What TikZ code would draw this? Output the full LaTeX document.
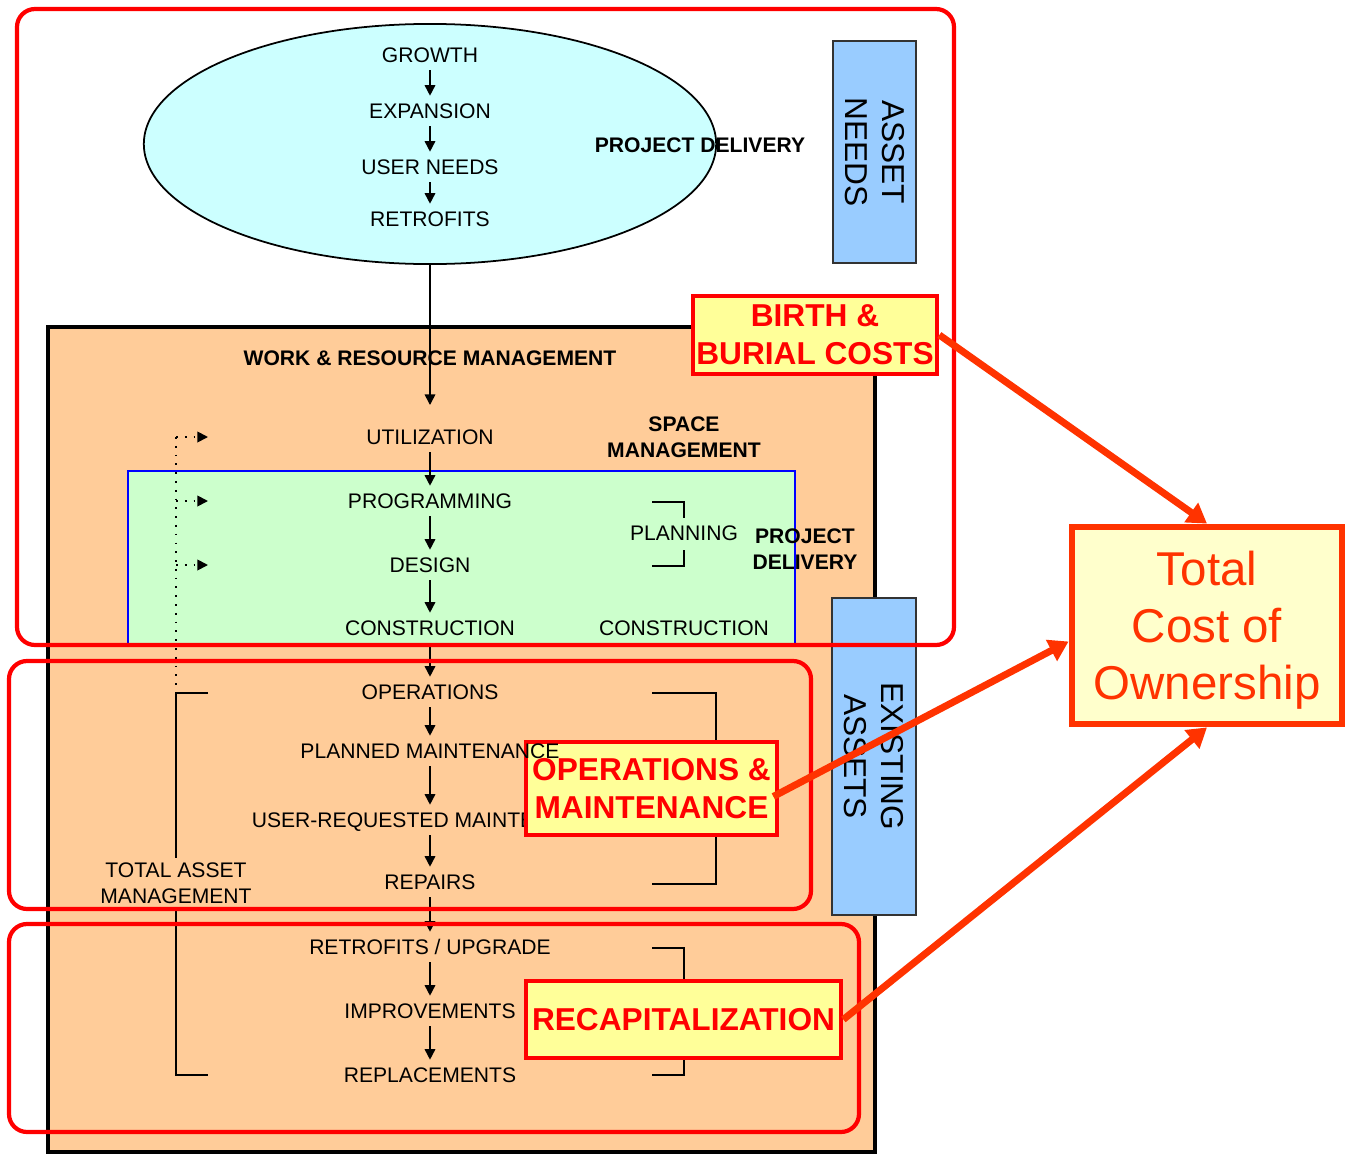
\documentclass[tikz,border=0pt]{standalone}
\usepackage{fontspec}
\setmainfont{Liberation Sans}
\usetikzlibrary{arrows.meta,positioning,shapes.geometric,calc}
\definecolor{tamRed}{HTML}{FF0000}
\definecolor{tamFlame}{HTML}{FF3300}
\definecolor{tamPeach}{HTML}{FFCC99}
\definecolor{tamMint}{HTML}{CCFFCC}
\definecolor{tamCyan}{HTML}{CCFFFF}
\definecolor{tamSky}{HTML}{99CCFF}
\definecolor{tamYellow}{HTML}{FFFF99}
\definecolor{tamCream}{HTML}{FFFFCC}
\definecolor{tamGrey}{HTML}{333333}
\tikzset{
  >={Triangle[length=3pt,width=3pt]},
  item/.style={font=\fontsize{6}{7.4}\selectfont, inner sep=2pt,
              text height=4.3pt, text depth=0pt},
  lbl/.style={font=\fontsize{6}{7.4}\selectfont, align=center, inner sep=1pt},
  hdr/.style={lbl, font=\fontsize{6}{7.4}\selectfont\bfseries},
  side/.style={draw=tamGrey, line width=0.6pt, fill=tamSky, rotate=-90,
              align=center, font=\fontsize{9}{10.5}\selectfont, inner sep=0pt},
  cost/.style={draw=tamRed, line width=1.3pt, fill=tamYellow, text=tamRed,
              align=center, font=\fontsize{9}{10.8}\selectfont\bfseries, inner sep=0pt},
  zone/.style={draw=tamRed, line width=1.2pt, rounded corners=1.8mm},
  flowarr/.style={->, line width=0.45pt},
  feed/.style={->, dotted, line width=0.5pt},
  brk/.style={line width=0.45pt},
  tco/.style={-{Triangle[length=5.5pt,width=6.5pt]}, draw=tamFlame, line width=2pt},
}
\begin{document}
\begin{tikzpicture}[x=0.01cm,y=-0.01cm]
  \useasboundingbox (0,0) rectangle (1347,1154);
  % asset needs part
  \node[ellipse, draw, line width=0.5pt, fill=tamCyan,
        minimum width=5.72cm, minimum height=2.4cm] (ell) at (430,144) {};
  \node[side, minimum width=2.22cm, minimum height=0.83cm] (needs) at (874.5,152) {ASSET\\NEEDS};
  % work & resource management frame
  \draw[line width=1.4pt, fill=tamPeach] (48,327) rectangle (875,1152);
  \draw[draw=blue, line width=0.5pt, fill=tamMint] (128,643) |- (795,471) -- (795,643);
  \node[hdr] (pd) at (700,145) {PROJECT DELIVERY};
  \node[hdr] (wrm) at (430,358) {WORK \& RESOURCE MANAGEMENT};
  \node[hdr] (sm) at (684,437) {SPACE\\MANAGEMENT};
  \node[hdr] (pd2) at (805,549) {PROJECT\\DELIVERY};
  \node[lbl] (plan) at (684,533) {PLANNING};
  \node[lbl] (cons2) at (684,628) {CONSTRUCTION};
  \node[lbl] (tam) at (176,883) {TOTAL ASSET\\MANAGEMENT};
  % the chain
  \foreach \n/\y/\t in {gro/55/GROWTH, exp/111/EXPANSION, usr/167/USER NEEDS, ret/219/RETROFITS,
      uti/437/UTILIZATION, prg/501/PROGRAMMING, des/565/DESIGN, con/628/CONSTRUCTION,
      ops/692/OPERATIONS, urm/820/USER-REQUESTED MAINTENANCE, rep/882/REPAIRS,
      imp/1011/IMPROVEMENTS, rpl/1075/REPLACEMENTS}
    \node[item] (\n) at (430,\y) {\t};
  \node[item] (upg) at (430,947) {RETROFITS / UPGRADE};
  \foreach \a/\b in {gro/exp, exp/usr, usr/ret, uti/prg, prg/des, des/con, con/ops,
      urm/rep, rep/upg, upg/imp, imp/rpl}
    \draw[flowarr] (\a) -- (\b);
  \coordinate (utitop) at (430,405);
  \draw[flowarr] (ell.south) -- (utitop);
  % brackets
  \draw[brk] (652,502) -| (684,518) (684,550) |- (652,566);
  \draw[brk] (652,693) -| (716,884) -- (652,884);
  \draw[brk] (652,948) -| (684,1075) -- (652,1075);
  \draw[brk] (208,693) -| (tam.north -| 176,0);
  \draw[brk] (tam.south -| 176,0) |- (208,1075);
  \draw[dotted, line width=0.5pt] (176,437) -- (176,687);
  \foreach \n in {uti,prg,des}{
    \coordinate (f\n) at (208,0 |- \n);
    \draw[feed] (176,0 |- \n) -- (f\n);}
  \node[side, minimum width=3.17cm, minimum height=0.84cm] (exist) at (874,756.5) {EXISTING\\ASSETS};
  % cost zones
  \draw[zone] (17,9) rectangle (954,645);
  \draw[zone] (9,661) rectangle (811,909);
  \draw[zone] (9,924) rectangle (859,1132);
  \node[cost, minimum width=2.44cm, minimum height=0.78cm] (birth) at (815,335) {BIRTH \&\\BURIAL COSTS};
  \node[cost, minimum width=2.51cm, minimum height=0.93cm] (om) at (651.5,788.5) {OPERATIONS \&\\MAINTENANCE};
  \node[item] (pm) at (430,751) {PLANNED MAINTENANCE};
  \draw[flowarr] (ops) -- (pm);
  \draw[flowarr] (pm) -- (urm);
  \node[cost, minimum width=3.15cm, minimum height=0.77cm] (recap) at (683.5,1019.5) {RECAPITALIZATION};
  \node[draw=tamFlame, line width=1.9pt, fill=tamCream, text=tamFlame, align=center,
        font=\fontsize{13.5}{16.2}\selectfont, text depth=0pt,
        minimum width=2.7cm, minimum height=1.97cm]
        (tot) at (1207,625.5) {Total\\Cost of\\Ownership};
  \draw[tco] (birth.east) -- (tot.north);
  \draw[tco] ($(om.east)+(-6,8)$) -- ($(tot.west)+(0,16)$);
  \draw[tco] (recap.east) -- (tot.south);
\end{tikzpicture}
\end{document}
